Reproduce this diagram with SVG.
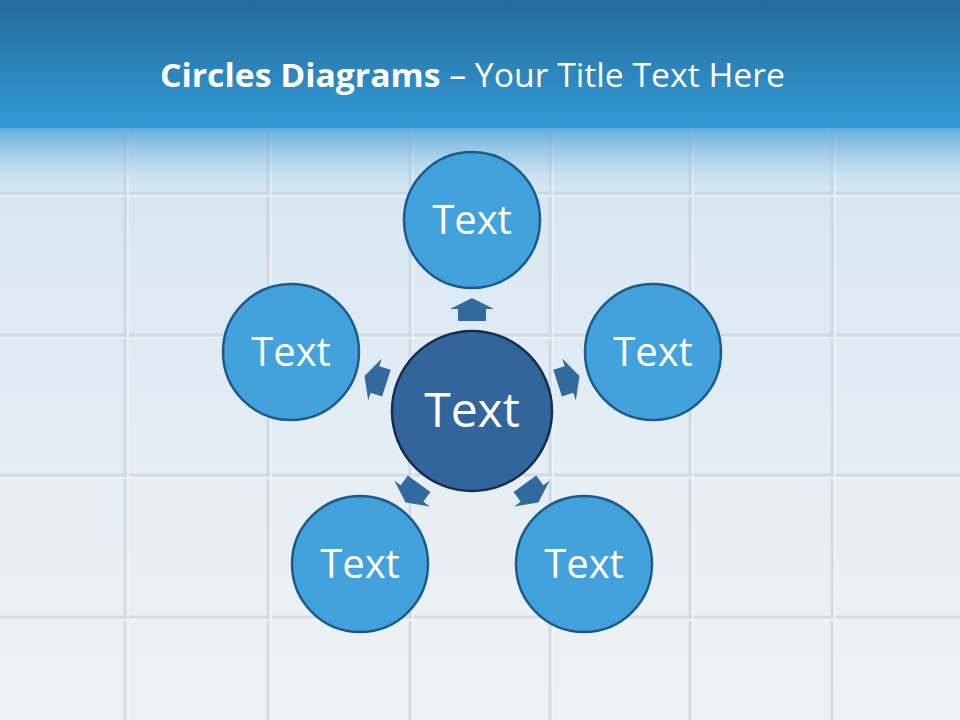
<svg xmlns="http://www.w3.org/2000/svg" width="960" height="720" viewBox="0 0 960 720">
<defs>
<linearGradient id="bg" x1="0" y1="0" x2="0" y2="1">
<stop offset="0" stop-color="#c4def0"/>
<stop offset="0.35" stop-color="#dbe9f3"/>
<stop offset="0.7" stop-color="#e7eef3"/>
<stop offset="1" stop-color="#eff2f4"/>
</linearGradient>
<linearGradient id="banner" x1="0" y1="0" x2="0" y2="1">
<stop offset="0" stop-color="#246c9c"/>
<stop offset="1" stop-color="#3399d5"/>
</linearGradient>
<linearGradient id="fade" x1="0" y1="0" x2="0" y2="1">
<stop offset="0" stop-color="#3a9bd6" stop-opacity="0.75"/>
<stop offset="1" stop-color="#9ccbea" stop-opacity="0"/>
</linearGradient>
<path id="arrow" d="M -14 -90 L 14 -90 L 14 -102 L 22 -102 L 0 -113 L -22 -102 L -14 -102 Z"/>
<style>
.outer { fill: #43a2db; stroke: #1c5b8b; stroke-width: 2.5; }
.center { fill: #31659b; stroke: #142f4d; stroke-width: 2.5; }
.lbl { font-family: "Open Sans", "Noto Sans", sans-serif; fill: #ffffff; text-anchor: middle; }
.arr { fill: #336a9e; }
.grid { stroke: #c6d0d7; stroke-width: 3; fill: none; }
.gridh { stroke: #f7fafc; stroke-width: 1.5; fill: none; }
</style>
</defs>
<g id="background">
<rect x="0" y="0" width="960" height="720" fill="url(#bg)"/>
<g opacity="0.6">
<path class="grid" d="M125 130 V720 M268 130 V720 M410 130 V720 M550 130 V720 M690 130 V720 M832 130 V720"/>
<path class="grid" d="M0 193 H960 M0 335 H960 M0 475 H960 M0 617 H960"/>
<path class="gridh" d="M128 130 V720 M271 130 V720 M413 130 V720 M553 130 V720 M693 130 V720 M835 130 V720"/>
<path class="gridh" d="M0 196 H960 M0 338 H960 M0 478 H960 M0 620 H960"/>
</g>
<rect x="0" y="0" width="960" height="128" fill="url(#banner)"/>
<rect x="0" y="128" width="960" height="60" fill="url(#fade)"/>
</g>
<g id="title">
<text x="160" y="87" font-family="Open Sans, Noto Sans, sans-serif" font-size="33" fill="#ffffff" textLength="625" lengthAdjust="spacingAndGlyphs"><tspan font-weight="bold">Circles Diagrams</tspan> – Your Title Text Here</text>
</g>
<g id="connectors">
<use href="#arrow" class="arr" transform="translate(472 411)"/>
<use href="#arrow" class="arr" transform="translate(472 411) rotate(72)"/>
<use href="#arrow" class="arr" transform="translate(472 411) rotate(-72)"/>
<use href="#arrow" class="arr" transform="translate(472 411) rotate(144)"/>
<use href="#arrow" class="arr" transform="translate(472 411) rotate(-144)"/>
</g>
<g id="node-top">
<circle class="outer" cx="472" cy="220" r="68"/>
<text class="lbl" x="472" y="234" font-size="40">Text</text>
</g>
<g id="node-upper-left">
<circle class="outer" cx="291" cy="352" r="68"/>
<text class="lbl" x="291" y="366" font-size="40">Text</text>
</g>
<g id="node-upper-right">
<circle class="outer" cx="653" cy="352" r="68"/>
<text class="lbl" x="653" y="366" font-size="40">Text</text>
</g>
<g id="node-lower-left">
<circle class="outer" cx="360" cy="564" r="68"/>
<text class="lbl" x="360" y="578" font-size="40">Text</text>
</g>
<g id="node-lower-right">
<circle class="outer" cx="584" cy="564" r="68"/>
<text class="lbl" x="584" y="578" font-size="40">Text</text>
</g>
<g id="node-center">
<circle class="center" cx="472" cy="411" r="80"/>
<text class="lbl" x="472" y="427" font-size="48">Text</text>
</g>
</svg>
